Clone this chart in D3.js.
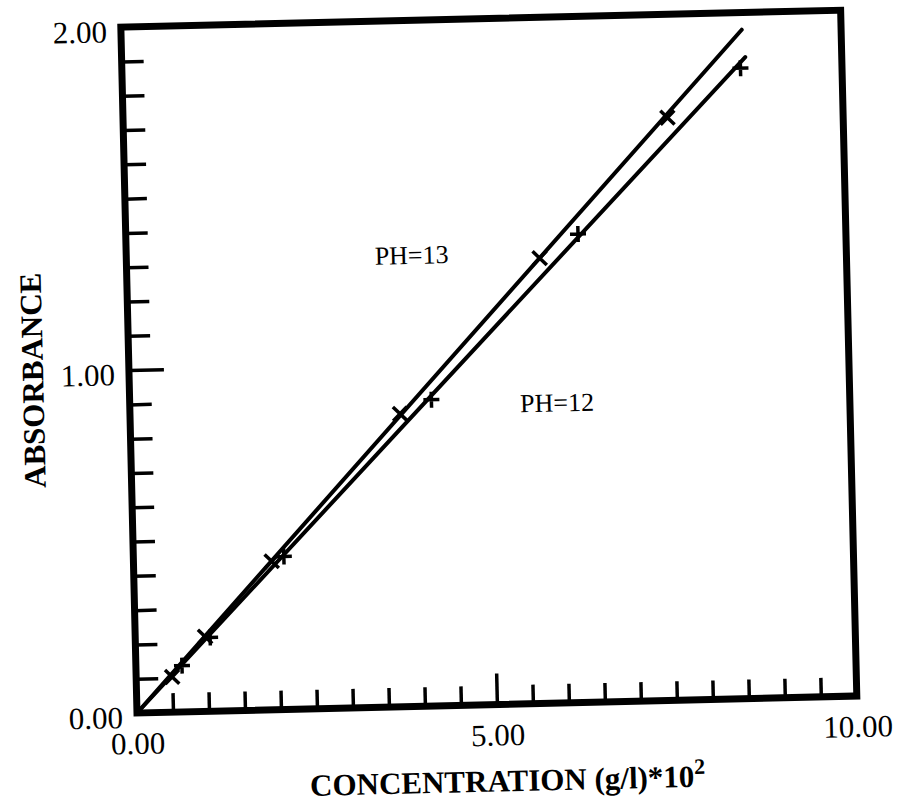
<!DOCTYPE html>
<html>
<head>
<meta charset="utf-8">
<script src="https://cdn.jsdelivr.net/npm/d3@7"></script>
<style>
  html, body { margin: 0; padding: 0; background: #fff; }
  svg { display: block; }
  text { font-family: "Liberation Serif", "Times New Roman", serif; fill: #000; }
</style>
</head>
<body>
<div id="chart"></div>
<script>
// ---- data ----
const concPH13 = [0.50, 0.97, 1.92, 3.75, 5.74, 7.56];
const absPH13  = [0.103, 0.218, 0.433, 0.854, 1.298, 1.699];
const concPH12 = [0.64, 1.04, 2.09, 4.19, 6.28, 8.59];
const absPH12  = [0.135, 0.215, 0.446, 0.893, 1.366, 1.838];
const fitConcPH13 = [0, 8.62];
const fitAbsPH13  = [0, 1.95];
const fitConcPH12 = [0, 8.66];
const fitAbsPH12  = [0, 1.87];
const xTickLabels = [0, 5, 10];
const yTickLabels = [0, 1, 2];
const xMinorTicks = [0.5,1,1.5,2,2.5,3,3.5,4,4.5,5.5,6,6.5,7,7.5,8,8.5,9,9.5];
const xMajorTicks = [5];
const yMinorTicks = [0.1,0.2,0.3,0.4,0.5,0.6,0.7,0.8,0.9,1.1,1.2,1.3,1.4,1.5,1.6,1.7,1.8,1.9];
const yMajorTicks = [1];
const annotText = ["PH=13", "PH=12"];
const annotX = [3.45, 5.42];
const annotY = [1.29, 0.85];

// ---- layout ----
const W = 901, H = 811;
const x0 = 137, x1 = 857, y0 = 713, y1 = 27;

const svg = d3.select("#chart").append("svg")
  .attr("width", W).attr("height", H);

// scanned page is tilted slightly
const g = svg.append("g").attr("transform", `rotate(-1.35,${x0},${y0})`);

const x = d3.scaleLinear().domain([0, 10]).range([x0, x1]);
const y = d3.scaleLinear().domain([0, 2]).range([y0, y1]);

// minor / major ticks (inward)
function styleTicks(sel, w) {
  sel.select(".domain").remove();
  sel.selectAll(".tick line").attr("stroke", "#000").attr("stroke-width", w);
}
g.append("g").attr("transform", `translate(0,${y0})`)
  .call(d3.axisBottom(x).tickValues(xMinorTicks).tickSize(-19).tickFormat(""))
  .call(s => styleTicks(s, 3.5));
g.append("g").attr("transform", `translate(0,${y0})`)
  .call(d3.axisBottom(x).tickValues(xMajorTicks).tickSize(-31).tickFormat(""))
  .call(s => styleTicks(s, 3.5));
g.append("g").attr("transform", `translate(${x0},0)`)
  .call(d3.axisLeft(y).tickValues(yMinorTicks).tickSize(-22).tickFormat(""))
  .call(s => styleTicks(s, 3.5));
g.append("g").attr("transform", `translate(${x0},0)`)
  .call(d3.axisLeft(y).tickValues(yMajorTicks).tickSize(-35).tickFormat(""))
  .call(s => styleTicks(s, 3.5));

// tick labels
const xl = g.append("g").attr("transform", `translate(0,${y0})`)
  .call(d3.axisBottom(x).tickValues(xTickLabels).tickSize(0).tickPadding(19)
        .tickFormat(d3.format(".2f")));
xl.select(".domain").remove();
xl.selectAll("text").attr("font-size", 31).attr("font-family", "Liberation Serif");

const yl = g.append("g").attr("transform", `translate(${x0},0)`)
  .call(d3.axisLeft(y).tickValues(yTickLabels).tickSize(0).tickPadding(14)
        .tickFormat(d3.format(".2f")));
yl.select(".domain").remove();
yl.selectAll("text").attr("font-size", 31).attr("font-family", "Liberation Serif")
  .attr("dy", "0.46em");

// frame
g.append("rect")
  .attr("x", x0).attr("y", y1)
  .attr("width", x1 - x0).attr("height", y0 - y1)
  .attr("fill", "none").attr("stroke", "#000").attr("stroke-width", 7)
  .attr("stroke-linejoin", "miter");

// fitted lines
const line = d3.line().x(d => x(d[0])).y(d => y(d[1]));
g.append("path")
  .datum(fitConcPH13.map((c, i) => [c, fitAbsPH13[i]]))
  .attr("d", line).attr("fill", "none").attr("stroke", "#000")
  .attr("stroke-width", 4).attr("stroke-linecap", "round");
g.append("path")
  .datum(fitConcPH12.map((c, i) => [c, fitAbsPH12[i]]))
  .attr("d", line).attr("fill", "none").attr("stroke", "#000")
  .attr("stroke-width", 4).attr("stroke-linecap", "round");

// markers
const xMark = "M-7,-7L7,7M-7,7L7,-7";
const plusMark = "M-8,0L8,0M0,-8L0,8";
g.append("g").selectAll("path")
  .data(concPH13.map((c, i) => [c, absPH13[i]]))
  .join("path")
  .attr("transform", d => `translate(${x(d[0])},${y(d[1])})`)
  .attr("d", xMark).attr("stroke", "#000").attr("stroke-width", 3.5).attr("fill", "none");
g.append("g").selectAll("path")
  .data(concPH12.map((c, i) => [c, absPH12[i]]))
  .join("path")
  .attr("transform", d => `translate(${x(d[0])},${y(d[1])})`)
  .attr("d", plusMark).attr("stroke", "#000").attr("stroke-width", 3.5).attr("fill", "none");

// annotations
g.append("g").selectAll("text")
  .data(annotText.map((t, i) => ({t, cx: annotX[i], cy: annotY[i]})))
  .join("text")
  .attr("x", d => x(d.cx)).attr("y", d => y(d.cy))
  .attr("font-size", 26)
  .text(d => d.t);

// axis titles
const xt = g.append("text")
  .attr("x", (x0 + x1) / 2 + 9).attr("y", 800)
  .attr("text-anchor", "middle")
  .attr("font-size", 31).attr("font-weight", "bold");
xt.append("tspan").text("CONCENTRATION (g/l)*10");
xt.append("tspan").attr("font-size", 22).attr("dy", -13).text("2");

g.append("text")
  .attr("transform", `translate(51,${(y0 + y1) / 2 + 8}) rotate(-90)`)
  .attr("text-anchor", "middle")
  .attr("font-size", 31).attr("font-weight", "bold")
  .text("ABSORBANCE");
</script>
</body>
</html>
